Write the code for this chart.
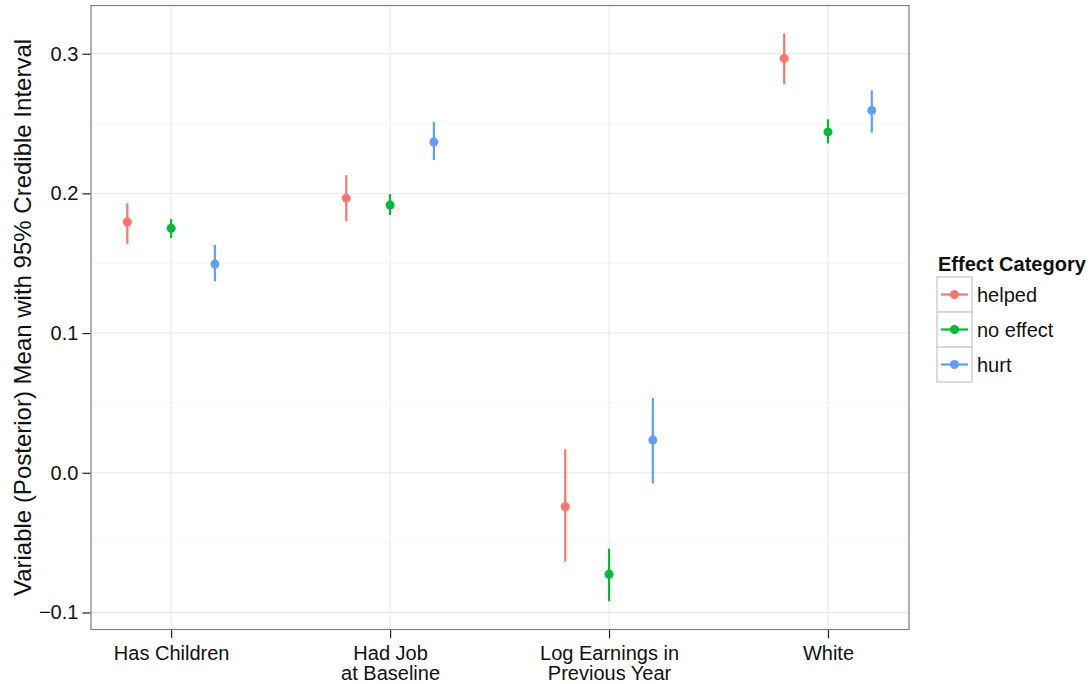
<!DOCTYPE html>
<html>
<head>
<meta charset="utf-8">
<script src="https://cdn.jsdelivr.net/npm/d3@7"></script>
<style>
  body { margin: 0; background: #fff; }
  text { font-family: "Liberation Sans", Arial, sans-serif; }
</style>
</head>
<body>
<svg id="chart" width="1090" height="684"></svg>
<script>
// categories and series
var categories = ["Has Children", "Had Job\nat Baseline", "Log Earnings in\nPrevious Year", "White"];
var groups = ["helped", "no effect", "hurt"];
var colors = ["#F8766D", "#00BA38", "#619CFF"];
// mean per category, one array per group
var helpedMean = [0.1795, 0.1966, -0.0243, 0.2966];
var helpedLow  = [0.1637, 0.1800, -0.0637, 0.2780];
var helpedHigh = [0.1930, 0.2130, 0.0167, 0.3145];
var noEffMean  = [0.1750, 0.1916, -0.0727, 0.2440];
var noEffLow   = [0.1680, 0.1845, -0.0920, 0.2358];
var noEffHigh  = [0.1816, 0.1995, -0.0544, 0.2530];
var hurtMean   = [0.1494, 0.2367, 0.0234, 0.2594];
var hurtLow    = [0.1370, 0.2238, -0.0076, 0.2434];
var hurtHigh   = [0.1630, 0.2510, 0.0535, 0.2737];
var yTicks = [-0.1, 0.0, 0.1, 0.2, 0.3];
var yMinor = [-0.05, 0.05, 0.15, 0.25];

var d3v = d3;
var svg = d3v.select("#chart");
var margin = {left: 91, top: 5.5, right: 909, bottom: 629.5};

var means = [helpedMean, noEffMean, hurtMean];
var lows = [helpedLow, noEffLow, hurtLow];
var highs = [helpedHigh, noEffHigh, hurtHigh];
var dodge = 0.2;

var x = d3v.scaleLinear().domain([-0.366, 3.37]).range([margin.left, margin.right]);
var y = d3v.scaleLinear().domain([-0.1122, 0.3345]).range([margin.bottom, margin.top]);

var rows = [];
groups.forEach(function (g, gi) {
    categories.forEach(function (c, ci) {
        rows.push({g: gi, c: ci, m: means[gi][ci], lo: lows[gi][ci], hi: highs[gi][ci]});
    });
});

// panel grid
var grid = svg.append("g");
grid.selectAll("line.minor").data(yMinor).enter().append("line")
    .attr("x1", margin.left).attr("x2", margin.right)
    .attr("y1", function (d) { return y(d); }).attr("y2", function (d) { return y(d); })
    .attr("stroke", "#f5f5f5").attr("stroke-width", 1);
grid.selectAll("line.majy").data(yTicks).enter().append("line")
    .attr("x1", margin.left).attr("x2", margin.right)
    .attr("y1", function (d) { return y(d); }).attr("y2", function (d) { return y(d); })
    .attr("stroke", "#e8e8e8").attr("stroke-width", 1);
grid.selectAll("line.majx").data(categories).enter().append("line")
    .attr("y1", margin.top).attr("y2", margin.bottom)
    .attr("x1", function (d, i) { return x(i); }).attr("x2", function (d, i) { return x(i); })
    .attr("stroke", "#e8e8e8").attr("stroke-width", 1);

// intervals and points
var marks = svg.append("g");
marks.selectAll("line.ci").data(rows).enter().append("line")
    .attr("x1", function (d) { return x(d.c + (d.g - 1) * dodge); })
    .attr("x2", function (d) { return x(d.c + (d.g - 1) * dodge); })
    .attr("y1", function (d) { return y(d.lo); })
    .attr("y2", function (d) { return y(d.hi); })
    .attr("stroke", function (d) { return colors[d.g]; })
    .attr("stroke-width", 2.2);
marks.selectAll("circle").data(rows).enter().append("circle")
    .attr("cx", function (d) { return x(d.c + (d.g - 1) * dodge); })
    .attr("cy", function (d) { return y(d.m); })
    .attr("r", 4.5)
    .attr("fill", function (d) { return colors[d.g]; });

// border
svg.append("rect")
    .attr("x", margin.left).attr("y", margin.top)
    .attr("width", margin.right - margin.left).attr("height", margin.bottom - margin.top)
    .attr("fill", "none").attr("stroke", "#7f7f7f").attr("stroke-width", 1.2);

// y axis
var yAxis = svg.append("g")
    .attr("transform", "translate(" + (margin.left - 0.6) + ",0)")
    .call(d3v.axisLeft(y).tickValues(yTicks).tickSize(8).tickPadding(4)
        .tickFormat(function (d) { return d3v.format(".1f")(d).replace("-", "\u2212"); }));
yAxis.select(".domain").remove();
yAxis.selectAll(".tick line").attr("stroke", "#222").attr("stroke-width", 1.2);
yAxis.selectAll("text").attr("font-size", 20).attr("fill", "#111")
    .style("font-family", "Liberation Sans, Arial, sans-serif");

// x axis
var xAxis = svg.append("g")
    .attr("transform", "translate(0," + (margin.bottom + 0.6) + ")")
    .call(d3v.axisBottom(x).tickValues([0, 1, 2, 3]).tickSize(8).tickFormat(""));
xAxis.select(".domain").remove();
xAxis.selectAll(".tick line").attr("stroke", "#222").attr("stroke-width", 1.2);
xAxis.selectAll(".tick").each(function (d) {
    var lines = categories[d].split("\n");
    var t = d3v.select(this).append("text")
        .attr("text-anchor", "middle").attr("fill", "#111").attr("font-size", 20);
    lines.forEach(function (l, i) {
        t.append("tspan").attr("x", 0).attr("y", 29.5 + i * 20).text(l);
    });
});

// y title
svg.append("text")
    .attr("transform", "translate(" + 31 + "," + ((margin.top + margin.bottom) / 2) + ") rotate(-90)")
    .attr("text-anchor", "middle")
    .attr("font-size", 24)
    .attr("fill", "#111")
    .text("Variable (Posterior) Mean with 95% Credible Interval");

// legend
var legend = svg.append("g").attr("transform", "translate(937,277)");
legend.append("text").attr("x", 1).attr("y", -6).attr("font-size", 20)
    .attr("font-weight", "bold").attr("fill", "#111").text("Effect Category");
var item = legend.selectAll("g.item").data(groups).enter().append("g")
    .attr("transform", function (d, i) { return "translate(0," + (i * 35) + ")"; });
item.append("rect").attr("width", 35).attr("height", 35)
    .attr("fill", "#fff").attr("stroke", "#d0d0d0").attr("stroke-width", 1.5);
item.append("line").attr("x1", 4).attr("x2", 31).attr("y1", 17.5).attr("y2", 17.5)
    .attr("stroke", function (d, i) { return colors[i]; }).attr("stroke-width", 2.2);
item.append("circle").attr("cx", 17.5).attr("cy", 17.5).attr("r", 4.5)
    .attr("fill", function (d, i) { return colors[i]; });
item.append("text").attr("x", 40).attr("y", 24.5).attr("font-size", 20)
    .attr("fill", "#111").text(function (d) { return d; });
</script>
</body>
</html>
